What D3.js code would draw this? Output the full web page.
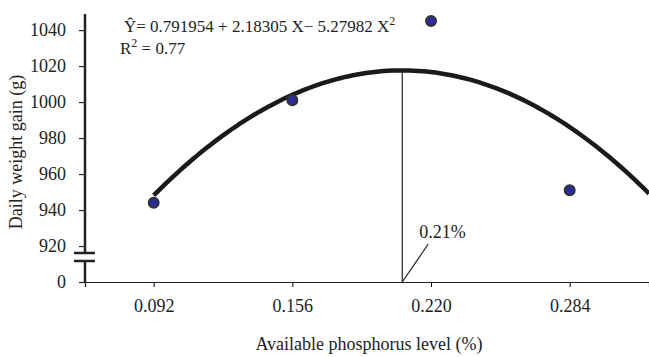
<!DOCTYPE html>
<html>
<head>
<meta charset="utf-8">
<script src="https://cdn.jsdelivr.net/npm/d3@7"></script>
<style>
body { margin: 0; background: #fff; }
svg { font-family: "Liberation Serif", "Times New Roman", serif; }
</style>
</head>
<body>
<svg width="649" height="357"></svg>
<script>
// observed means
var levels = [0.092, 0.156, 0.220, 0.284];
var gains = [944, 1001, 1045, 951];
var xTicks = ["0.092", "0.156", "0.220", "0.284"];
var yTicks = [0, 920, 940, 960, 980, 1000, 1020, 1040];
// fitted quadratic (kg), shown in g
var coef = [0.791954, 2.18305, -5.27982];

var svg = d3.select("svg");
var x = d3.scaleLinear().domain([0.0603, 0.3206]).range([85, 649]);
// broken axis: 0 sits where 900 would be
var y = d3.scaleLinear().domain([0, 900, 1049.5]).range([282, 282, 13]);

function fit(v) { return 1000 * (coef[0] + coef[1] * v + coef[2] * v * v); }

// x axis
var xa = svg.append("g").attr("transform", "translate(0,282)")
    .call(d3.axisBottom(x).tickValues(levels).tickSize(5).tickPadding(12)
      .tickFormat(function(d, i){ return xTicks[i]; }));
xa.select(".domain").attr("stroke", "#222").attr("stroke-width", 1.2);
xa.selectAll("text").attr("font-size", 18).attr("fill", "#222")
  .attr("font-family", "Liberation Serif");

// y axis
var ya = svg.append("g").attr("transform", "translate(85,0)")
    .call(d3.axisLeft(y).tickValues(yTicks).tickSize(6).tickPadding(13)
      .tickFormat(d3.format("d")));
ya.select(".domain").remove();
ya.selectAll("text").attr("font-size", 18).attr("fill", "#222")
  .attr("font-family", "Liberation Serif");
ya.selectAll("line").attr("stroke", "#222").attr("stroke-width", 1.2);
// axis line with a gap for the break
svg.append("line").attr("x1", 85).attr("x2", 85).attr("y1", 14).attr("y2", 253)
  .attr("stroke", "#222").attr("stroke-width", 2.5);
svg.append("line").attr("x1", 85).attr("x2", 85).attr("y1", 261).attr("y2", 282)
  .attr("stroke", "#222").attr("stroke-width", 2.5);
[253, 261].forEach(function(b){
  svg.append("line").attr("x1", 74).attr("x2", 95).attr("y1", b).attr("y2", b)
    .attr("stroke", "#222").attr("stroke-width", 2.5);
});

// fitted curve
var xs = d3.range(0.092, 0.3206, 0.002).concat([0.3206]);
svg.append("path")
  .datum(xs)
  .attr("d", d3.line().x(function(d){ return x(d); }).y(function(d){ return y(fit(d)); }))
  .attr("fill", "none").attr("stroke", "#1a1a1a").attr("stroke-width", 4.5);

// optimum
var opt = -coef[1] / (2 * coef[2]);
svg.append("line").attr("x1", x(opt)).attr("x2", x(opt))
  .attr("y1", y(fit(opt))).attr("y2", y(0))
  .attr("stroke", "#222").attr("stroke-width", 1.2);
svg.append("line").attr("x1", x(opt)).attr("y1", y(0))
  .attr("x2", x(opt) + 26).attr("y2", y(0) - 38)
  .attr("stroke", "#222").attr("stroke-width", 1.2);
svg.append("text").attr("x", x(opt) + 17).attr("y", 238)
  .attr("font-size", 18).attr("fill", "#222").text("0.21%");

// points
svg.selectAll("circle.pt").data(levels).enter().append("circle")
  .attr("class", "pt")
  .attr("cx", function(d){ return x(d); })
  .attr("cy", function(d, i){ return y(gains[i]); })
  .attr("r", 5)
  .attr("fill", "#2b2b9a").attr("stroke", "#333").attr("stroke-width", 2);

// equation
var eq = svg.append("text").attr("x", 124).attr("y", 32).attr("font-size", 17).attr("fill", "#222");
eq.append("tspan").text("Y\u0302= 0.791954 + 2.18305 X\u2212 5.27982 X");
eq.append("tspan").attr("dy", -7).attr("font-size", 12).text("2");
var r2 = svg.append("text").attr("x", 120).attr("y", 54).attr("font-size", 17).attr("fill", "#222");
r2.append("tspan").text("R");
r2.append("tspan").attr("dy", -7).attr("font-size", 12).text("2");
r2.append("tspan").attr("dy", 7).text(" = 0.77");

// titles
svg.append("text").attr("x", 369).attr("y", 350).attr("text-anchor", "middle")
  .attr("font-size", 18).attr("fill", "#222").text("Available phosphorus level (%)");
svg.append("text").attr("transform", "translate(22,152) rotate(-90)")
  .attr("text-anchor", "middle").attr("font-size", 18).attr("fill", "#222")
  .text("Daily weight gain (g)");
</script>
</body>
</html>
